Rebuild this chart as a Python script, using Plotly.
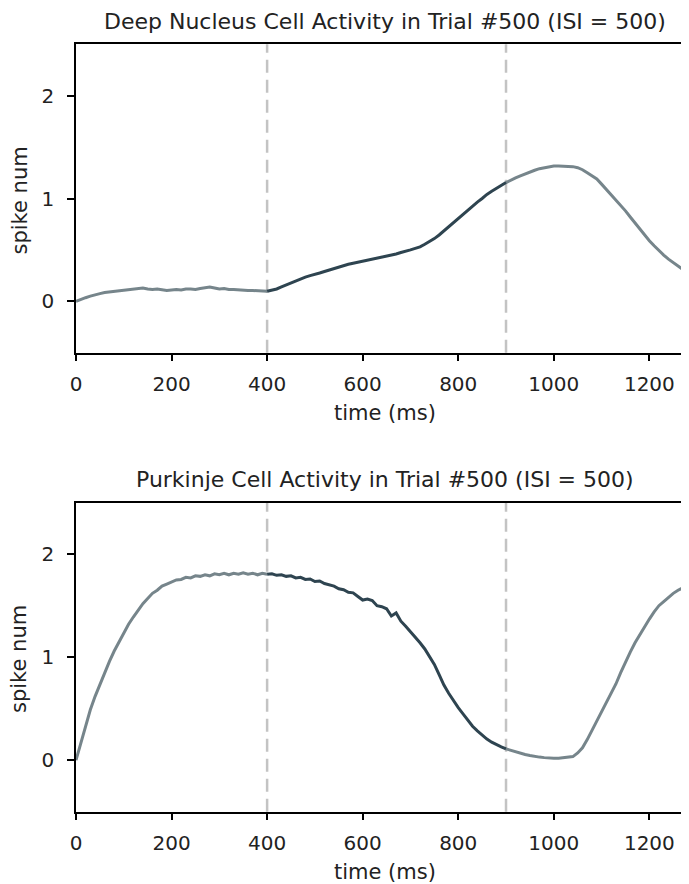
import plotly.graph_objects as go

# ---------------- data ----------------
time_ms = list(range(0, 1300, 10))  # 0 .. 1290 ms, 10 ms bins

deep_nucleus = [
    0.0, 0.02, 0.035, 0.05, 0.065, 0.075, 0.085, 0.09, 0.095, 0.10,
    0.105, 0.11, 0.115, 0.125, 0.13, 0.12, 0.115, 0.12, 0.11, 0.105,
    0.11, 0.115, 0.11, 0.12, 0.12, 0.115, 0.125, 0.13, 0.14, 0.13,
    0.12, 0.125, 0.115, 0.115, 0.11, 0.11, 0.105, 0.105, 0.10, 0.10,
    0.097, 0.105, 0.12, 0.14, 0.16, 0.18, 0.20, 0.215, 0.235, 0.25,
    0.26, 0.275, 0.29, 0.305, 0.315, 0.335, 0.35, 0.36, 0.37, 0.38,
    0.39, 0.40, 0.405, 0.42, 0.43, 0.44, 0.45, 0.46, 0.475, 0.485,
    0.50, 0.515, 0.53, 0.555, 0.58, 0.61, 0.645, 0.685, 0.725, 0.77,
    0.81, 0.85, 0.89, 0.93, 0.965, 1.00, 1.04, 1.07, 1.10, 1.13,
    1.155, 1.18, 1.20, 1.22, 1.24, 1.26, 1.275, 1.29, 1.30, 1.31,
    1.315, 1.315, 1.315, 1.31, 1.31, 1.30, 1.28, 1.25, 1.22, 1.19,
    1.14, 1.09, 1.04, 0.98, 0.93, 0.88, 0.82, 0.76, 0.70, 0.645,
    0.59, 0.54, 0.49, 0.45, 0.41, 0.375, 0.34, 0.31, 0.28, 0.25,
]

purkinje = [
    0.0, 0.17, 0.33, 0.49, 0.62, 0.74, 0.85, 0.96, 1.06, 1.15,
    1.24, 1.32, 1.39, 1.46, 1.52, 1.57, 1.62, 1.65, 1.69, 1.71,
    1.73, 1.75, 1.755, 1.775, 1.77, 1.79, 1.785, 1.80, 1.79, 1.81,
    1.80, 1.815, 1.80, 1.815, 1.805, 1.82, 1.805, 1.815, 1.80, 1.815,
    1.805, 1.81, 1.795, 1.80, 1.785, 1.79, 1.77, 1.775, 1.755, 1.76,
    1.735, 1.74, 1.715, 1.70, 1.69, 1.665, 1.655, 1.63, 1.625, 1.59,
    1.555, 1.565, 1.55, 1.50, 1.49, 1.47, 1.40, 1.43, 1.35, 1.30,
    1.25, 1.20, 1.14, 1.08, 1.01, 0.93, 0.83, 0.73, 0.65, 0.575,
    0.51, 0.45, 0.39, 0.33, 0.285, 0.24, 0.205, 0.175, 0.15, 0.13,
    0.11, 0.095, 0.08, 0.065, 0.055, 0.045, 0.035, 0.03, 0.025, 0.02,
    0.018, 0.02, 0.025, 0.028, 0.035, 0.07, 0.12, 0.20, 0.29, 0.38,
    0.47, 0.56, 0.645, 0.74, 0.85, 0.955, 1.05, 1.14, 1.22, 1.30,
    1.37, 1.44, 1.50, 1.54, 1.585, 1.62, 1.65, 1.675, 1.70, 1.72,
]

cs_onset = 400   # ms
us_onset = 900   # ms
titles = [
    "Deep Nucleus Cell Activity in Trial #500 (ISI = 500)",
    "Purkinje Cell Activity in Trial #500 (ISI = 500)",
]
x_ticks = [0, 200, 400, 600, 800, 1000, 1200]
y_ticks = [0, 1, 2]

# ---------------- style ----------------
LIGHT = "#76858b"
DARK = "#2e4450"
DASH = "#c3c3c3"
FONT = "DejaVu Sans"
W, H = 689, 884
OFF = 8            # page body margin of the html page
L = 76 - OFF       # left edge of the axes, in figure pixels
PX_PER_MS = 0.4778
XMAX = (W - L) / PX_PER_MS

fig = go.Figure()


def segment(values, lo, hi):
    xs = [t for t in time_ms if lo <= t <= hi]
    ys = [v for t, v in zip(time_ms, values) if lo <= t <= hi]
    return xs, ys


for k, series in enumerate([deep_nucleus, purkinje]):
    xa = "x" if k == 0 else "x2"
    ya = "y" if k == 0 else "y2"
    for lo, hi, col in [(0, cs_onset, LIGHT), (us_onset, 1300, LIGHT), (cs_onset, us_onset, DARK)]:
        xs, ys = segment(series, lo, hi)
        fig.add_trace(go.Scatter(x=xs, y=ys, mode="lines", xaxis=xa, yaxis=ya,
                                 line=dict(color=col, width=3), showlegend=False,
                                 hoverinfo="skip"))
    for t in (cs_onset, us_onset):
        fig.add_shape(type="line", x0=t, x1=t, y0=0, y1=1, xref=xa, yref=f"{ya} domain",
                      line=dict(color=DASH, width=2.5, dash="13px,7px"), layer="below")


def py(ref_y):
    return 1 - (ref_y - OFF) / H


def px(ref_x):
    return (ref_x - OFF - L) / (W - L)


top_dom = [py(352.7), py(44.3)]
bot_dom = [py(811.7), py(502.7)]

xcommon = dict(range=[0, XMAX], tickvals=x_ticks, showline=True, linecolor="black",
               linewidth=1.5, mirror=True, ticks="outside", ticklen=7, tickwidth=1.5,
               tickcolor="black", showgrid=False, zeroline=False, ticklabelstandoff=6,
               tickfont=dict(family=FONT, size=20, color="#222"))
ycommon = dict(range=[-0.5, 2.5], tickvals=y_ticks, showline=True, linecolor="black",
               linewidth=1.5, mirror=False, ticks="outside", ticklen=7, tickwidth=1.5,
               tickcolor="black", showgrid=False, zeroline=False, ticklabelstandoff=9,
               tickfont=dict(family=FONT, size=20, color="#222"))

fig.update_layout(
    width=W, height=H,
    margin=dict(l=L, r=0, t=0, b=0),
    paper_bgcolor="white", plot_bgcolor="white",
    xaxis=dict(domain=[0, 1], anchor="y", **xcommon),
    yaxis=dict(domain=top_dom, anchor="x", **ycommon),
    xaxis2=dict(domain=[0, 1], anchor="y2", **xcommon),
    yaxis2=dict(domain=bot_dom, anchor="x2", **ycommon),
)

ann = []
for title, ty, xly, yly in [(titles[0], 21.7, 413, 200.5), (titles[1], 479, 871.7, 659)]:
    ann.append(dict(text=title, x=px(384.5), y=py(ty), xref="paper", yref="paper",
                    showarrow=False, xanchor="center", yanchor="middle",
                    font=dict(family=FONT, size=22, color="#222")))
    ann.append(dict(text="time (ms)", x=px(384.5), y=py(xly), xref="paper", yref="paper",
                    showarrow=False, xanchor="center", yanchor="middle",
                    font=dict(family=FONT, size=21, color="#222")))
    ann.append(dict(text="spike num", x=px(19), y=py(yly), xref="paper", yref="paper",
                    showarrow=False, xanchor="center", yanchor="middle", textangle=-90,
                    font=dict(family=FONT, size=21, color="#222")))
fig.update_layout(annotations=ann)

fig.write_html("out.html")
